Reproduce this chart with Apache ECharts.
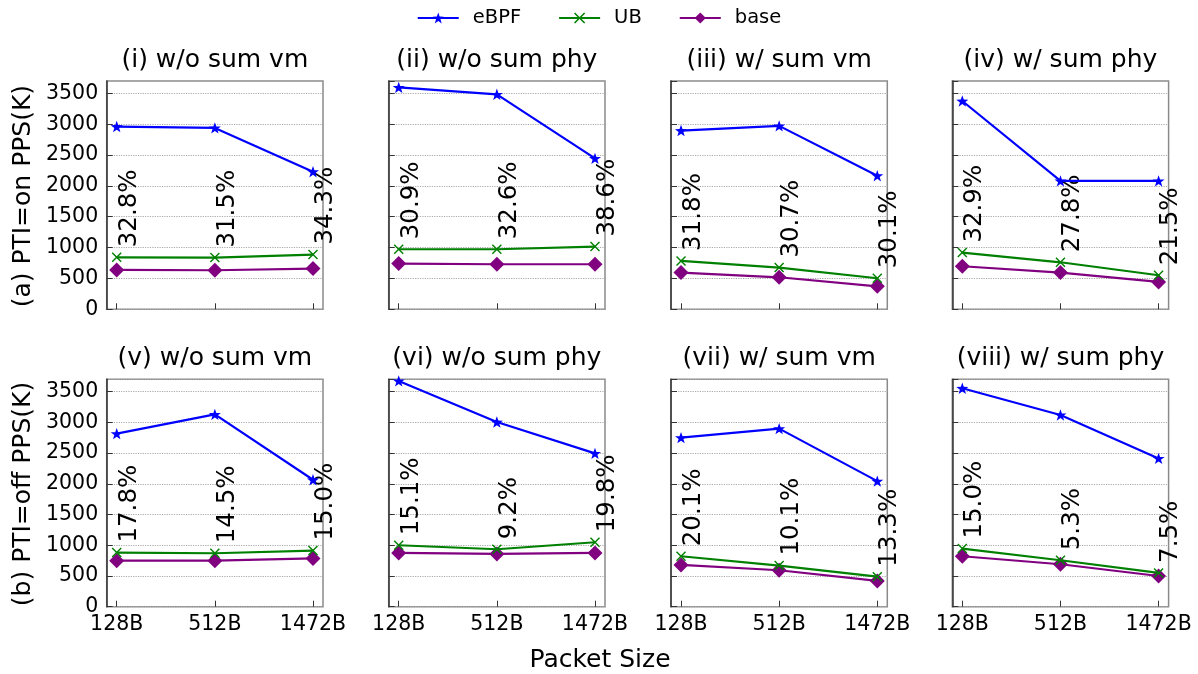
<!DOCTYPE html>
<html>
<head>
<meta charset="utf-8">
<script src="https://cdn.jsdelivr.net/npm/echarts@6/dist/echarts.min.js"></script>
<style>html,body{margin:0;padding:0;background:#fff;}#c{width:1198px;height:674px;}</style>
</head>
<body>
<div id="c"></div>
<script>
const categories = ['128B', '512B', '1472B'];
const panelTitles = ['(i) w/o sum vm', '(ii) w/o sum phy', '(iii) w/ sum vm', '(iv) w/ sum phy',
  '(v) w/o sum vm', '(vi) w/o sum phy', '(vii) w/ sum vm', '(viii) w/ sum phy'];
const rowNames = ['(a) PTI=on PPS(K)', '(b) PTI=off PPS(K)'];
const yTicks = [0, 500, 1000, 1500, 2000, 2500, 3000, 3500];
const ebpf = [[2962, 2940, 2230], [3597, 3484, 2446], [2897, 2973, 2165], [3376, 2081, 2081],
  [2816, 3130, 2065], [3674, 3005, 2495], [2751, 2897, 2043], [3554, 3120, 2413]];
const ub = [[843, 838, 887], [973, 973, 1016], [784, 676, 503], [919, 762, 552],
  [881, 870, 913], [1000, 935, 1049], [821, 669, 489], [946, 756, 550]];
const base = [[638, 633, 660], [741, 730, 730], [595, 519, 373], [698, 595, 443],
  [749, 749, 786], [875, 859, 875], [680, 593, 420], [821, 691, 500]];
const pct = [['32.8%', '31.5%', '34.3%'], ['30.9%', '32.6%', '38.6%'], ['31.8%', '30.7%', '30.1%'], ['32.9%', '27.8%', '21.5%'],
  ['17.8%', '14.5%', '15.0%'], ['15.1%', '9.2%', '19.8%'], ['20.1%', '10.1%', '13.3%'], ['15.0%', '5.3%', '7.5%']];

const FONT = 'DejaVu Sans';
const starPath = 'path://M0,-10 L2.35,-3.24 L9.51,-3.09 L3.8,1.24 L5.88,8.09 L0,4 L-5.88,8.09 L-3.8,1.24 L-9.51,-3.09 L-2.35,-3.24 Z';
const xPath = 'path://M-5,-4 L-4,-5 L0,-1 L4,-5 L5,-4 L1,0 L5,4 L4,5 L0,1 L-4,5 L-5,4 L-1,0 Z';

const lefts = [106.7, 388.7, 671, 952.3];
const pw = 216.3;
const tops = [81, 379.3];
const phs = [228.3, 227.4];

const grids = [], xAxes = [], yAxes = [], series = [], graphics = [];
for (let p = 0; p < 8; p++) {
  const r = Math.floor(p / 4), c = p % 4;
  grids.push({left: lefts[c], top: tops[r], width: pw, height: phs[r], show: true,
    borderColor: '#8a8a8a', borderWidth: 1.5, backgroundColor: 'transparent'});
  xAxes.push({type: 'value', gridIndex: p, min: -0.102, max: 2.102,
    axisLine: {show: false, onZero: false},
    splitLine: {show: false},
    axisTick: {show: true, inside: true, length: 6, customValues: [0, 1, 2], lineStyle: {color: '#333', width: 1}},
    axisLabel: {show: r === 1, customValues: [0, 1, 2], margin: 7, fontSize: 20.5, fontFamily: FONT, color: '#000',
      formatter: v => categories[Math.round(v)]}
  });
  yAxes.push({type: 'value', gridIndex: p, min: 0, max: 3700, interval: 500,
    axisLine: {show: true, onZero: false, lineStyle: {color: '#333', width: 1.5}},
    axisTick: {show: true, inside: true, length: 6, lineStyle: {color: '#333', width: 1}},
    splitLine: {show: true, lineStyle: {color: '#aaa', type: 'dotted', width: 1.2}},
    axisLabel: {show: c === 0, showMaxLabel: false, margin: 8.5, fontSize: 20.5, fontFamily: FONT, color: '#000',
      formatter: v => (yTicks.indexOf(v) >= 0 ? String(v) : '')}
  });
  const mk = arr => arr.map((v, i) => [i, v]);
  series.push({name: 'eBPF', type: 'line', xAxisIndex: p, yAxisIndex: p, data: mk(ebpf[p]),
    symbol: starPath, symbolSize: 12, symbolKeepAspect: true, color: '#0000ff',
    lineStyle: {width: 2.2, color: '#0000ff'}, itemStyle: {color: '#0000ff'}, z: 4, animation: false});
  series.push({name: 'UB', type: 'line', xAxisIndex: p, yAxisIndex: p, data: mk(ub[p]),
    symbol: xPath, symbolSize: 10, color: '#008000',
    lineStyle: {width: 2.2, color: '#008000'}, itemStyle: {color: '#008000'}, z: 3, animation: false,
    label: {show: true, position: 'top', distance: 5, rotate: 90, align: 'left', verticalAlign: 'top',
      fontSize: 24.5, fontFamily: FONT, color: '#000', formatter: params => pct[p][params.dataIndex]}});
  series.push({name: 'base', type: 'line', xAxisIndex: p, yAxisIndex: p, data: mk(base[p]),
    symbol: 'diamond', symbolSize: 15, color: '#800080',
    lineStyle: {width: 2.2, color: '#800080'}, itemStyle: {color: '#800080'}, z: 2, animation: false});
  graphics.push({type: 'text', x: lefts[c] + pw / 2, y: r === 0 ? 60 : 358,
    style: {text: panelTitles[p], fontSize: 25, fontFamily: FONT, fill: '#000', align: 'center', verticalAlign: 'middle'}});
}
for (let r = 0; r < 2; r++) {
  graphics.push({type: 'text', x: 23, y: tops[r] + phs[r] / 2 + 1, rotation: Math.PI / 2,
    style: {text: rowNames[r], fontSize: 25, fontFamily: FONT, fill: '#000', align: 'center', verticalAlign: 'middle'}});
}
graphics.push({type: 'text', x: 600, y: 660,
  style: {text: 'Packet Size', fontSize: 25, fontFamily: FONT, fill: '#000', align: 'center', verticalAlign: 'middle'}});

const chart = echarts.init(document.getElementById('c'), null, {renderer: 'canvas'});
chart.setOption({
  animation: false,
  backgroundColor: '#fff',
  legend: {top: 3, left: 'center', data: ['eBPF', 'UB', 'base'], itemWidth: 41, itemHeight: 14, itemGap: 37,
    textStyle: {fontSize: 19.5, fontFamily: FONT, color: '#000', padding: [0, 0, 0, 9]}},
  grid: grids, xAxis: xAxes, yAxis: yAxes, series: series, graphic: graphics
});
</script>
</body>
</html>
